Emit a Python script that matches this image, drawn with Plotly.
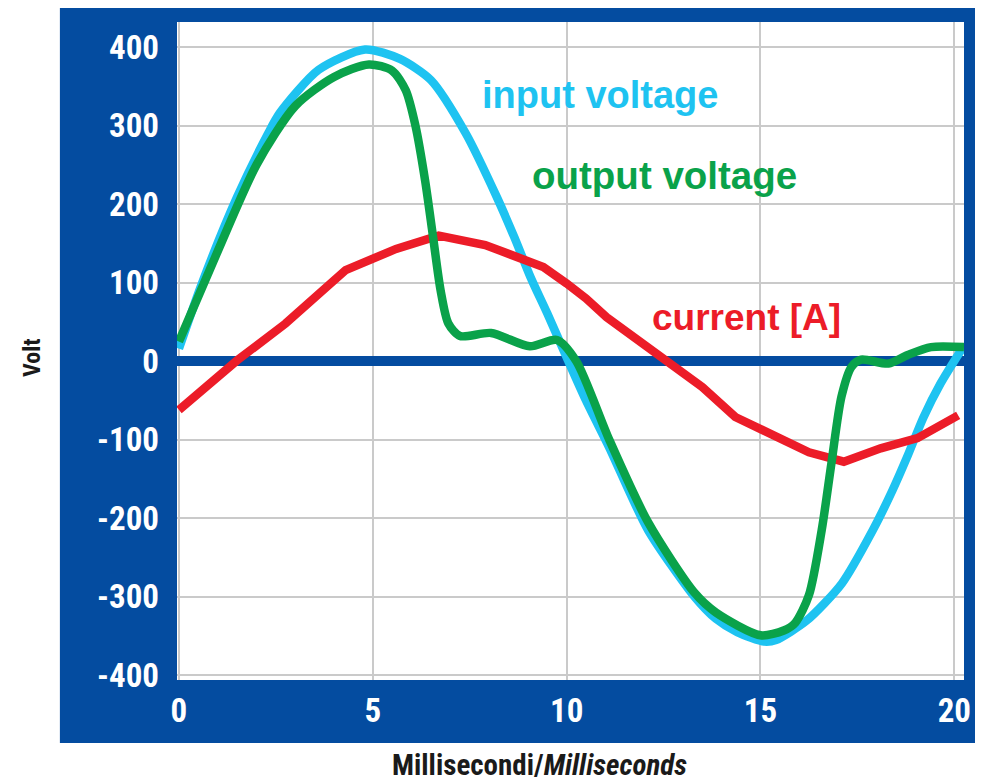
import plotly.graph_objects as go

# ---- data ----
input_t = [0, 0.6, 1.5, 2.3, 2.6, 3.6, 4.8, 5.7, 6.5, 7.4, 8.2, 8.65, 9.07, 9.5, 10.0, 10.5,
           11.1, 12.1, 13.3, 13.85, 14.4, 15.1, 15.4, 16.2, 17.1, 17.9, 18.4, 18.8, 19.2, 19.65, 20.25]
input_v = [16, 100, 209, 290, 316, 371, 397, 385, 358, 290, 209, 158, 107, 61, 5, -50,
           -110, -215, -300, -328, -345, -357, -355, -330, -283, -215, -165, -120, -72, -28, 20]

output_t = [0, 1, 2, 3, 4, 4.9, 5.5, 5.85, 6.1, 6.35, 6.55, 6.75, 6.95, 7.25, 8.05, 9.05, 9.75, 10.25,
            11.1, 12.1, 13.3, 13.85, 15.0, 15.6, 15.9, 16.25, 16.58, 16.83, 17.09, 17.35, 17.6,
            18.3, 18.8, 19.4, 20.25]
output_v = [25, 140, 250, 325, 362, 378, 370, 345, 300, 230, 160, 90, 48, 32, 36, 19, 27, 0,
            -100, -205, -295, -320, -349, -343, -333, -298, -215, -130, -45, -7, 2,
            -3, 8, 18, 18]

current_t = [0, 1.5, 2.75, 4.3, 5.6, 6.7, 7.9, 9.4, 10.0, 10.5, 11.03, 12.4, 13.5, 14.35,
             15.4, 16.25, 17.15, 18.1, 19.05, 20.1]
current_a = [-62, 1, 48, 116, 143, 160, 148, 120, 99, 80, 56, 5, -33, -71,
             -96, -116, -128, -111, -98, -69]

x_ticks = [0, 5, 10, 15, 20]
x_ticktext = ["0", "5", "10", "15", "20"]
y_ticks = [-400, -300, -200, -100, 0, 100, 200, 300, 400]
y_ticktext = ["-400", "-300", "-200", "-100", "0", "100", "200", "300", "400"]

labels = ["input voltage", "output voltage", "current [A]"]

# ---- styles ----
FRAME = "#044ca0"
C_IN = "#1ec3f1"
C_OUT = "#0aa24a"
C_CUR = "#ec1c28"
NARROW = "Liberation Sans Narrow, Roboto Condensed, DejaVu Sans Condensed, Arial Narrow, sans-serif"
WIDE = "Liberation Sans, Arial, sans-serif"
LW = 8.5

fig = go.Figure()
fig.add_trace(go.Scatter(x=input_t, y=input_v, mode="lines", name=labels[0],
                         line=dict(color=C_IN, width=LW, shape="spline", smoothing=0.7)))
fig.add_trace(go.Scatter(x=current_t, y=current_a, mode="lines", name=labels[2],
                         line=dict(color=C_CUR, width=LW)))
fig.add_trace(go.Scatter(x=output_t, y=output_v, mode="lines", name=labels[1],
                         line=dict(color=C_OUT, width=LW, shape="spline", smoothing=0.75)))

# page has an 8px body margin: figure coords = page coords - 8
OFF = 8
W, H = 983 - OFF, 783 - OFF
L, T = 177 - OFF, 22 - OFF
PR, PB = 970 - OFF, 680 - OFF
R, B = W - PR, H - PB
pw, ph = PR - L, PB - T


def px(xp):
    return (xp - OFF - L) / pw


def py(yp):
    return (PB - (yp - OFF)) / ph


# blue frame + white plot area
fig.add_shape(type="rect", xref="paper", yref="paper", layer="below",
              x0=px(59), x1=px(1000), y0=py(743), y1=py(0),
              fillcolor=FRAME, line=dict(width=0))
fig.add_shape(type="rect", xref="paper", yref="paper", layer="below",
              x0=0, x1=1, y0=0, y1=1, fillcolor="white", line=dict(width=0))

fig.add_annotation(x=10.85, y=339, xref="x", yref="y", text="<b>" + labels[0] + "</b>",
                   showarrow=False, xanchor="center", yanchor="middle",
                   font=dict(family=WIDE, size=38, color=C_IN))
fig.add_annotation(x=12.52, y=236, xref="x", yref="y", text="<b>" + labels[1] + "</b>",
                   showarrow=False, xanchor="center", yanchor="middle",
                   font=dict(family=WIDE, size=38.5, color=C_OUT))
fig.add_annotation(x=14.65, y=56, xref="x", yref="y", text="<b>" + labels[2] + "</b>",
                   showarrow=False, xanchor="center", yanchor="middle",
                   font=dict(family=WIDE, size=37, color=C_CUR))

fig.add_annotation(x=px(542), y=py(765), xref="paper", yref="paper",
                   text="<b>Millisecondi/<i>Milliseconds</i></b>", showarrow=False,
                   xanchor="center", yanchor="middle",
                   font=dict(family=NARROW, size=29, color="#1a1a1a"))
fig.add_annotation(x=px(31), y=py(358), xref="paper", yref="paper",
                   text="<b>Volt</b>", textangle=-90, showarrow=False,
                   xanchor="center", yanchor="middle",
                   font=dict(family=NARROW, size=24, color="#1a1a1a"))

fig.update_layout(
    width=W, height=H,
    margin=dict(l=L, r=R, t=T, b=B),
    paper_bgcolor="white", plot_bgcolor="rgba(0,0,0,0)",
    showlegend=False,
    xaxis=dict(range=[-0.05, 20.25], tickvals=x_ticks, ticktext=x_ticktext,
               showgrid=True, gridcolor="#cacaca", gridwidth=1.5, zeroline=False,
               showline=False, ticks="", ticklabelstandoff=8,
               tickfont=dict(family=NARROW, size=33, color="white", weight="bold")),
    yaxis=dict(range=[-406, 432], tickvals=y_ticks, ticktext=y_ticktext,
               showgrid=True, gridcolor="#cacaca", gridwidth=1.5,
               zeroline=True, zerolinecolor=FRAME, zerolinewidth=10,
               showline=False, ticks="", ticklabelstandoff=17,
               tickfont=dict(family=NARROW, size=33, color="white", weight="bold")),
)

fig.write_html("out.html")
